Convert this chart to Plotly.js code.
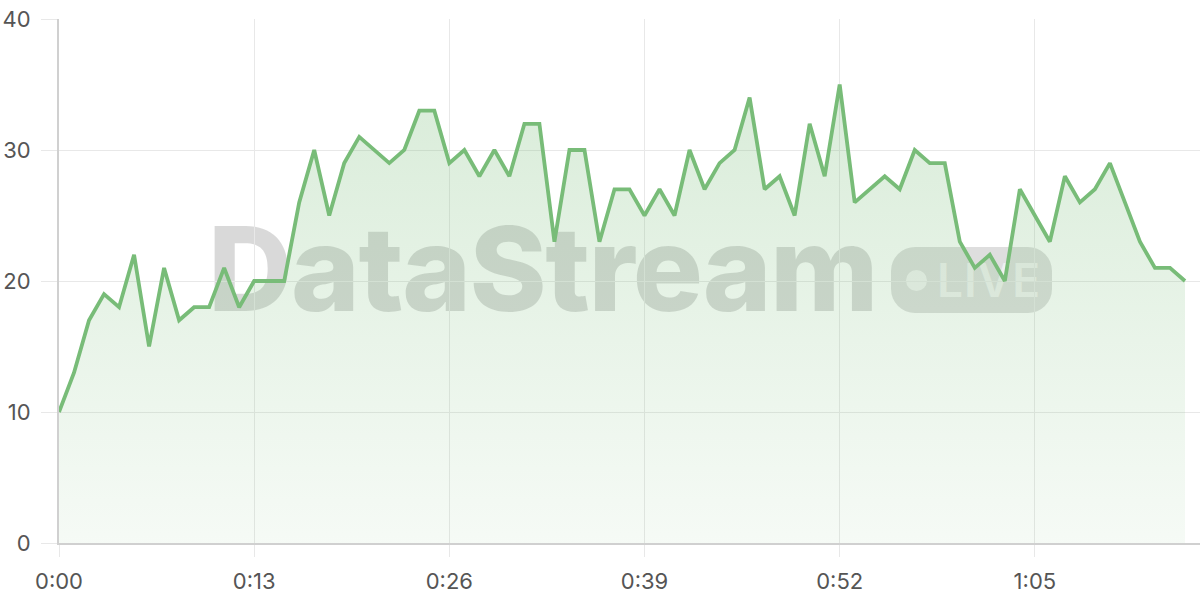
<!DOCTYPE html>
<html>
<head>
<meta charset="utf-8">
<script src="https://cdn.plot.ly/plotly-3.0.1.min.js"></script>
<style>
  html, body { margin: 0; padding: 0; background: #fff; }
  #wrap { position: relative; width: 1200px; height: 600px; }
  #mark {
    position: absolute; left: 0; top: 0; width: 1200px; height: 600px;
    font-family: Inter, "DejaVu Sans", sans-serif; pointer-events: none;
  }
  #mark .name {
    position: absolute; left: 208px; top: 199px;
    font-size: 117px; font-weight: 800; letter-spacing: -1.5px;
    color: rgba(0, 0, 0, 0.15); line-height: 140px; white-space: nowrap;
  }
  #mark .badge {
    position: absolute; left: 891px; top: 247px; width: 161px; height: 66px;
    border-radius: 24px; background: rgba(0, 0, 0, 0.13);
  }
  #mark .dot {
    position: absolute; left: 15px; top: 23px; width: 21px; height: 21px;
    border-radius: 50%; background: rgba(255, 255, 255, 0.6);
  }
  #mark .live {
    position: absolute; left: 46px; top: 7px; font-size: 46px; font-weight: 600;
    color: rgba(255, 255, 255, 0.6); line-height: 52px; letter-spacing: 1px;
  }
  #chart { position: absolute; left: 0; top: 0; width: 1200px; height: 600px; }
</style>
</head>
<body>
<div id="wrap">
  <div id="mark">
    <div class="name">DataStream</div>
    <div class="badge"><div class="dot"></div><div class="live">LIVE</div></div>
  </div>
  <div id="chart"></div>
</div>
<script>
// one reading per second
var seconds = [];
for (var s = 0; s <= 75; s++) seconds.push(s);

var readings = [
  10, 13, 17, 19, 18, 22, 15, 21, 17, 18,
  18, 21, 18, 20, 20, 20, 26, 30, 25, 29,
  31, 30, 29, 30, 33, 33, 29, 30, 28, 30,
  28, 32, 32, 23, 30, 30, 23, 27, 27, 25,
  27, 25, 30, 27, 29, 30, 34, 27, 28, 25,
  32, 28, 35, 26, 27, 28, 27, 30, 29, 29,
  23, 21, 22, 20, 27, 25, 23, 28, 26, 27,
  29, 26, 23, 21, 21, 20
];

var tickVals = [0, 13, 26, 39, 52, 65];
var tickText = ["0:00", "0:13", "0:26", "0:39", "0:52", "1:05"];

var trace = {
  x: seconds,
  y: readings,
  type: "scatter",
  mode: "lines",
  line: { color: "#78bc78", width: 3.8 },
  fill: "tozeroy",
  fillgradient: {
    type: "vertical",
    start: 0,
    stop: 35,
    colorscale: [
      [0, "rgba(120, 188, 120, 0.07)"],
      [1, "rgba(120, 188, 120, 0.28)"]
    ]
  },
  hoverinfo: "skip"
};

var layout = {
  width: 1200,
  height: 600,
  margin: { t: 19, r: 0, b: 57, l: 59 },
  paper_bgcolor: "rgba(0,0,0,0)",
  plot_bgcolor: "rgba(0,0,0,0)",
  showlegend: false,
  font: { family: "Inter, 'Liberation Sans', sans-serif", size: 22, color: "#555" },
  xaxis: {
    range: [0, 76],
    tickvals: tickVals,
    ticktext: tickText,
    showgrid: true,
    gridcolor: "#e8e8e8",
    gridwidth: 1,
    ticks: "outside",
    ticklen: 12,
    tickcolor: "#e8e8e8",
    showline: true,
    linecolor: "#d0d0d0",
    linewidth: 2,
    zeroline: false,
    ticklabelstandoff: 6,
    fixedrange: true
  },
  yaxis: {
    range: [0, 40],
    tickvals: [0, 10, 20, 30, 40],
    showgrid: true,
    gridcolor: "#e8e8e8",
    gridwidth: 1,
    ticks: "outside",
    ticklen: 16,
    tickcolor: "#e8e8e8",
    showline: true,
    linecolor: "#d0d0d0",
    linewidth: 2,
    zeroline: false,
    ticklabelstandoff: 6,
    fixedrange: true
  }
};

Plotly.newPlot("chart", [trace], layout, { displayModeBar: false, staticPlot: true });
</script>
</body>
</html>
